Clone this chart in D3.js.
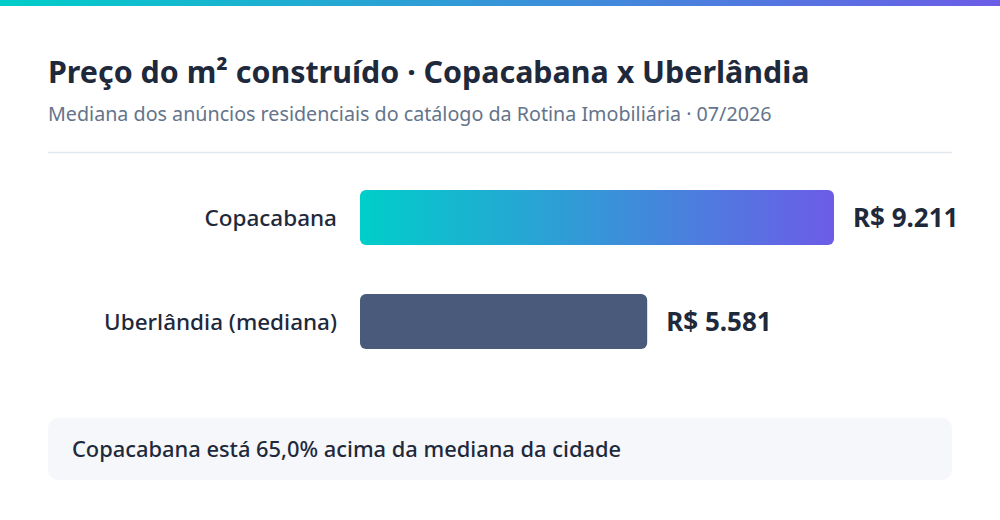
<!DOCTYPE html>
<html><head><meta charset="utf-8">
<script src="https://cdn.jsdelivr.net/npm/d3@7"></script>
<style>
html,body{margin:0;padding:0;background:#fff;}
svg{display:block;font-family:"Noto Sans",sans-serif;}
</style></head>
<body><svg id="c" width="1000" height="520"></svg>
<script>
const categories = ["Copacabana", "Uberlândia (mediana)"];
const values = [9211, 5581];
const valueLabels = ["R$ 9.211", "R$ 5.581"];
const title = "Preço do m² construído · Copacabana x Uberlândia";
const subtitle = "Mediana dos anúncios residenciais do catálogo da Rotina Imobiliária · 07/2026";
const note = "Copacabana está 65,0% acima da mediana da cidade";

const svg = d3.select("#c");
const defs = svg.append("defs");
const g1 = defs.append("linearGradient").attr("id","grad").attr("x1","0%").attr("x2","100%");
g1.append("stop").attr("offset","0%").attr("stop-color","#00cec9");
g1.append("stop").attr("offset","100%").attr("stop-color","#6c5ce7");

svg.append("rect").attr("x",0).attr("y",0).attr("width",1000).attr("height",6).attr("fill","url(#grad)");

svg.append("text").attr("x",48).attr("y",83).attr("font-size",30.4).attr("font-weight",700)
  .attr("fill","#1e293b").text(title);
svg.append("text").attr("x",48).attr("y",121).attr("font-size",19.7).attr("fill","#64748b").text(subtitle);
svg.append("line").attr("x1",48).attr("x2",952).attr("y1",152.5).attr("y2",152.5)
  .attr("stroke","#e2e8f0").attr("stroke-width",1.5);

const x = d3.scaleLinear().domain([0, d3.max(values)]).range([360, 834]);
const y = d3.scaleBand().domain(categories).range([158.8, 380.2]).paddingInner(0.471).paddingOuter(0.3);

const row = svg.selectAll("g.row").data(categories).join("g").attr("class","row");
row.append("rect")
  .attr("x", x(0)).attr("y", d => y(d))
  .attr("width", (d,i) => x(values[i]) - x(0)).attr("height", y.bandwidth())
  .attr("rx",6).attr("fill",(d,i)=> i===0 ? "url(#grad)" : "#4a5a7b");
row.append("text").attr("x", 337).attr("y", d => y(d) + y.bandwidth()/2 + 1)
  .attr("dy","0.35em").attr("text-anchor","end").attr("font-size",22.5).attr("font-weight",500)
  .attr("fill","#1e293b").text(d=>d);
row.append("text").attr("x",(d,i)=> x(values[i]) + 19).attr("y", d => y(d) + y.bandwidth()/2)
  .attr("dy","0.35em").attr("font-size",26).attr("font-weight",700)
  .attr("fill","#1e293b").text((d,i)=>valueLabels[i]);

svg.append("rect").attr("x",48).attr("y",418).attr("width",904).attr("height",62).attr("rx",10)
  .attr("fill","#f5f7fa");
svg.append("text").attr("x",72).attr("y",449).attr("dy","0.35em").attr("font-size",21.85).attr("font-weight",500)
  .attr("fill","#1e293b").text(note);
</script></body></html>
